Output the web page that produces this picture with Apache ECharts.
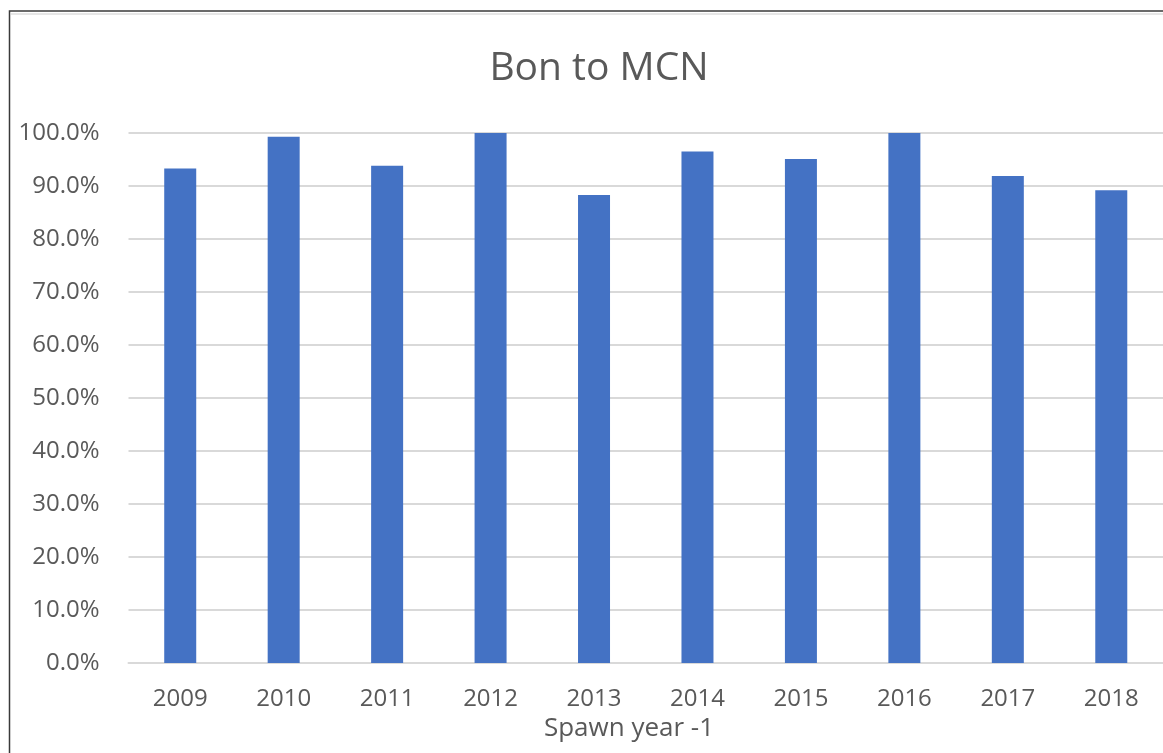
<!DOCTYPE html>
<html>
<head>
<meta charset="utf-8">
<title>Bon to MCN</title>
<script src="https://cdn.jsdelivr.net/npm/echarts@6/dist/echarts.min.js"></script>
<style>
  html, body { margin: 0; padding: 0; background: #ffffff; }
  #chart { width: 1163px; height: 753px; }
</style>
</head>
<body>
<div id="chart"></div>
<script>
// Spawn years shown along the category axis
const years = ['2009', '2010', '2011', '2012', '2013', '2014', '2015', '2016', '2017', '2018'];
// Survival from Bonneville to McNary, percent
const survival = [93.3, 99.3, 93.8, 100.0, 88.3, 96.5, 95.1, 100.0, 91.9, 89.2];
// Value-axis range and step, percent
const yMin = 0;
const yMax = 100;
const yStep = 10;

const textGray = '#595959';
const fontFamily = '"Open Sans", "Liberation Sans", sans-serif';

const chart = echarts.init(document.getElementById('chart'), null, { renderer: 'canvas' });

chart.setOption({
  animation: false,
  backgroundColor: '#ffffff',
  title: [
    {
      text: 'Bon to MCN',
      left: 594,
      top: 44,
      textAlign: 'center',
      textStyle: { fontFamily, fontSize: 39, fontWeight: 'normal', color: textGray }
    },
    {
      text: 'Spawn year -1',
      left: 624,
      top: 711,
      textAlign: 'center',
      textStyle: { fontFamily, fontSize: 26, fontWeight: 'normal', color: textGray }
    }
  ],
  graphic: [
    {
      type: 'rect',
      silent: true,
      shape: { x: 9.5, y: 11, width: 1200, height: 800 },
      style: { fill: 'none', stroke: '#3a3a3a', lineWidth: 1.5 }
    },
    {
      type: 'line',
      silent: true,
      shape: { x1: 11, y1: 14, x2: 1163, y2: 14 },
      style: { stroke: '#e6e6e6', lineWidth: 2 }
    }
  ],
  grid: {
    left: 128.5,
    right: -17.5,
    top: 133,
    bottom: 90,
    containLabel: false
  },
  xAxis: {
    type: 'category',
    data: years,
    axisLine: { show: true, lineStyle: { color: '#d9d9d9', width: 2 } },
    axisTick: { show: false },
    axisLabel: {
      color: textGray,
      fontFamily,
      fontSize: 24,
      margin: 24
    },
    splitLine: { show: false }
  },
  yAxis: {
    type: 'value',
    min: yMin,
    max: yMax,
    interval: yStep,
    axisLine: { show: false },
    axisTick: { show: false },
    axisLabel: {
      color: textGray,
      fontFamily,
      fontSize: 24,
      margin: 29,
      formatter: v => v.toFixed(1) + '%'
    },
    splitLine: { show: true, lineStyle: { color: '#d9d9d9', width: 2 } }
  },
  series: [
    {
      type: 'bar',
      data: survival,
      barWidth: 32,
      itemStyle: { color: '#4472c4' },
      z: 3
    }
  ]
});
</script>
</body>
</html>
